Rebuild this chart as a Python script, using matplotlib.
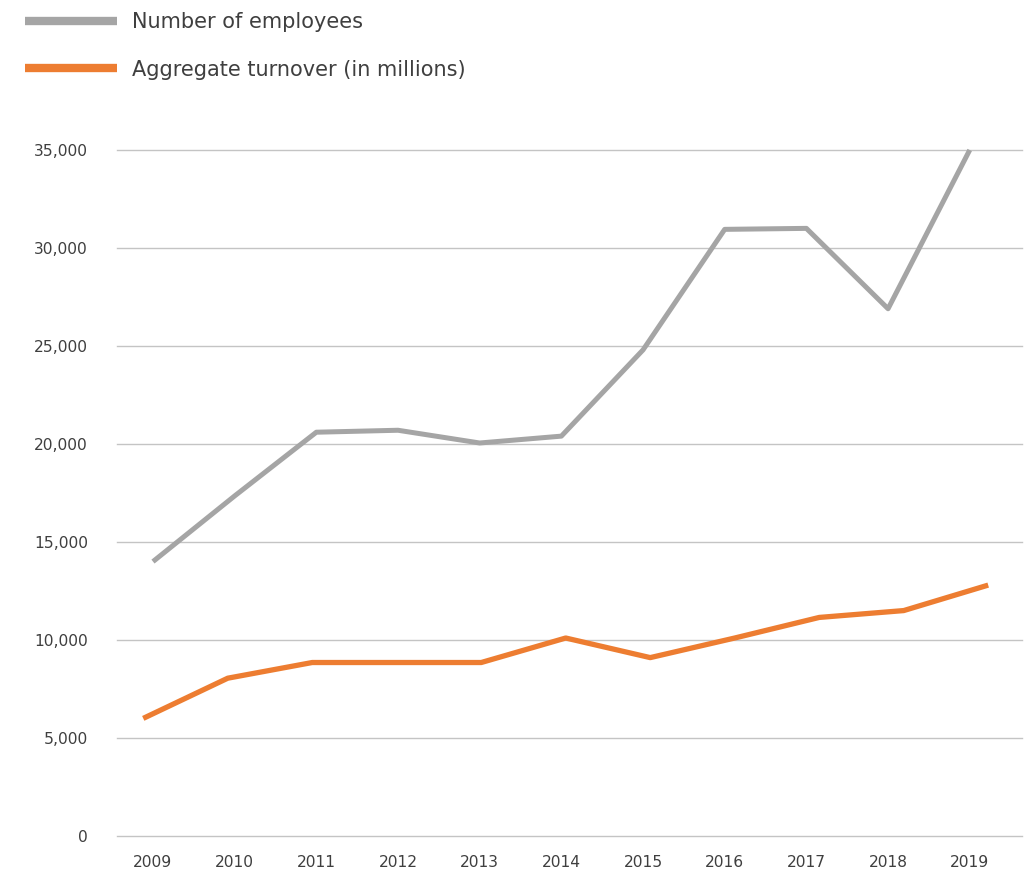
import numpy as np
import matplotlib.pyplot as plt
from matplotlib.lines import Line2D
from matplotlib.ticker import FuncFormatter

# Data
years = ['2009', '2010', '2011', '2012', '2013', '2014', '2015', '2016', '2017', '2018', '2019']
employees = [14000, 17350, 20600, 20700, 20050, 20400, 24800, 30950, 31000, 26900, 35000]
turnover = [6000, 8050, 8850, 8850, 8850, 10100, 9100, 10100, 11150, 11500, 12800]

GREY = '#A5A5A5'
ORANGE = '#ED7D31'
TEXT = '#3F3F3F'

plt.rcParams['font.family'] = ['DejaVu Sans']

fig = plt.figure(figsize=(10.34, 8.75), dpi=100)
ax = fig.add_axes([0.1132, 0.0446, 0.8752, 0.784])

x = np.arange(len(years))

ax.plot(x, employees, color=GREY, lw=3.6, solid_capstyle='butt', clip_on=False, zorder=3)
ax.set_xlim(-0.44, 10.64)
ax.set_ylim(0, 35000)

# the turnover series sits on a slightly wider horizontal scale in the original
ax2 = ax.twiny()
ax2.plot(x, turnover, color=ORANGE, lw=3.8, solid_capstyle='butt', clip_on=False, zorder=3)
ax2.set_xlim(-0.31, 10.40)
ax2.set_ylim(0, 35000)
ax2.axis('off')

ax.set_yticks(np.arange(0, 35001, 5000))
ax.yaxis.set_major_formatter(FuncFormatter(lambda v, p: f'{int(v):,}'))
ax.set_xticks(x)
ax.set_xticklabels(years)
ax.grid(axis='y', color='#C4C4C4', lw=1.0)
for gl in ax.get_ygridlines():
    gl.set_clip_on(False)
ax.set_axisbelow(True)
for s in ax.spines.values():
    s.set_visible(False)
ax.tick_params(axis='both', length=0, colors=TEXT, labelsize=11.2)
ax.tick_params(axis='y', pad=21)
ax.tick_params(axis='x', pad=14)

handles = [Line2D([], [], color=GREY, lw=6, solid_capstyle='butt'),
           Line2D([], [], color=ORANGE, lw=6, solid_capstyle='butt')]
fig.legend(handles, ['Number of employees', 'Aggregate turnover (in millions)'],
           loc='upper left', bbox_to_anchor=(0.012, 1.0), frameon=False,
           fontsize=15, handlelength=4.4, handletextpad=0.75, labelspacing=1.3,
           borderpad=0.1, labelcolor=TEXT)

fig.savefig('out.png', dpi=100, facecolor='white')
